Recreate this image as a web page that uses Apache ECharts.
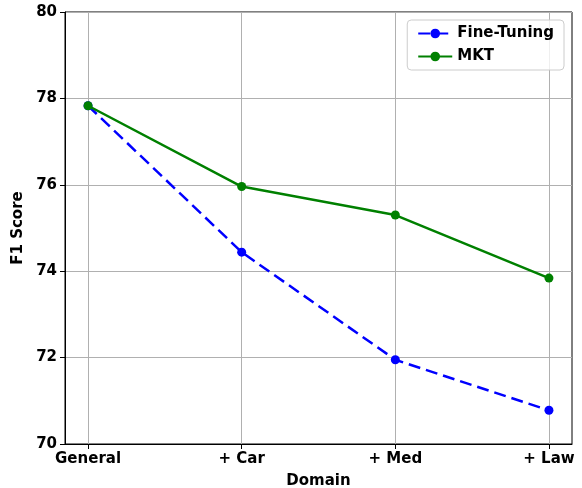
<!DOCTYPE html>
<html>
<head>
<meta charset="utf-8">
<script src="https://cdn.jsdelivr.net/npm/echarts@6/dist/echarts.min.js"></script>
<style>
  html, body { margin: 0; padding: 0; background: #fff; }
  #chart { width: 582px; height: 488px; }
</style>
</head>
<body>
<div id="chart"></div>
<script>
var domains = ['General', '+ Car', '+ Med', '+ Law']
var fineTuning = [77.83, 74.44, 71.95, 70.78]
var mkt = [77.83, 75.96, 75.30, 73.84]
var yTicks = [70, 72, 74, 76, 78, 80]
var positions = domains.map(function (d, i) { return i })

var font = 'DejaVu Sans'

function pairs(arr) {
  return arr.map(function (v, i) { return [positions[i], v] })
}

var chart = echarts.init(document.getElementById('chart'))
var option = {
  animation: false,
  grid: {
    left: 65, right: 10, top: 12, bottom: 44,
    outerBoundsMode: 'none',
    containLabel: false,
    show: true, borderColor: '#000', borderWidth: 1, backgroundColor: 'transparent'
  },
  legend: {
    right: 18, top: 20,
    orient: 'vertical',
    itemWidth: 34, itemHeight: 12, itemGap: 8,
    padding: [6, 10, 6, 10],
    borderColor: '#cccccc', borderWidth: 1, borderRadius: 4,
    backgroundColor: 'rgba(255,255,255,0.8)',
    textStyle: { fontFamily: font, fontWeight: 'bold', fontSize: 15, color: '#000' },
    data: ['Fine-Tuning', 'MKT']
  },
  xAxis: {
    type: 'value',
    min: -0.15, max: 3.15,
    name: 'Domain', nameLocation: 'middle', nameGap: 30,
    nameTextStyle: { fontFamily: font, fontWeight: 'bold', fontSize: 15, color: '#000' },
    axisLine: { show: true, onZero: false, lineStyle: { color: '#000', width: 1 } },
    axisTick: { show: true, customValues: positions, length: 5, lineStyle: { color: '#000' } },
    axisLabel: {
      customValues: positions, margin: 8,
      fontFamily: font, fontWeight: 'bold', fontSize: 15, color: '#000',
      formatter: function (v) { return domains[Math.round(v)] }
    },
    splitLine: { show: true, customValues: positions, lineStyle: { color: '#b0b0b0', width: 1 } }
  },
  yAxis: {
    type: 'value',
    min: 70, max: 80, interval: 2,
    name: 'F1 Score', nameLocation: 'middle', nameGap: 36,
    nameTextStyle: { fontFamily: font, fontWeight: 'bold', fontSize: 15, color: '#000' },
    axisLine: { show: true, onZero: false, lineStyle: { color: '#000', width: 1 } },
    axisTick: { show: true, length: 5, lineStyle: { color: '#000' } },
    axisLabel: {
      margin: 8, fontFamily: font, fontWeight: 'bold', fontSize: 15, color: '#000',
      formatter: function (v) { return yTicks.indexOf(v) >= 0 ? String(v) : '' }
    },
    splitLine: { show: true, lineStyle: { color: '#b0b0b0', width: 1 } }
  },
  series: [
    {
      name: 'Fine-Tuning',
      type: 'line',
      data: pairs(fineTuning),
      symbol: 'circle', symbolSize: 9,
      itemStyle: { color: '#0000ff' },
      lineStyle: { color: '#0000ff', width: 2.5, type: [12, 6] },
      z: 3
    },
    {
      name: 'MKT',
      type: 'line',
      data: pairs(mkt),
      symbol: 'circle', symbolSize: 9,
      itemStyle: { color: '#008000' },
      lineStyle: { color: '#008000', width: 2.5 },
      z: 4
    }
  ]
}
chart.setOption(option)
</script>
</body>
</html>
